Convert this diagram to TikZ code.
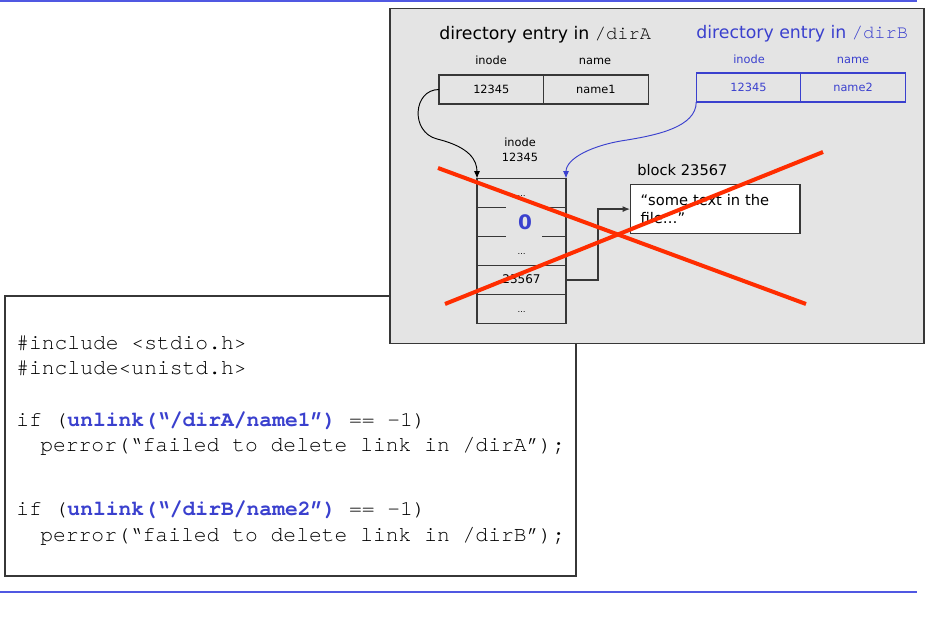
\documentclass[tikz,border=0pt]{standalone}
\usepackage{fontspec}
\setmainfont{DejaVu Sans}
\setmonofont{TeX Gyre Cursor}
\usepackage{xcolor}
\usetikzlibrary{arrows.meta,positioning}
\definecolor{myblue}{RGB}{58,64,206}
\definecolor{myrule}{RGB}{80,88,226}
\definecolor{myred}{RGB}{255,45,0}
\definecolor{mygray}{RGB}{228,228,228}
\definecolor{myedge}{RGB}{55,55,55}
\newcommand{\kwd}[1]{\textcolor{myblue}{\bfseries #1}}
\newcommand{\fs}[1]{\fontsize{#1}{1.2\dimexpr#1pt\relax}\selectfont}

\begin{document}
\begin{tikzpicture}[x=0.75pt,y=-0.75pt,
    cell/.style={draw=myedge,line width=0.9pt,outer sep=0pt,inner sep=0pt,
      minimum width=78.4pt,minimum height=21.75pt,font=\fs{8.5}},
    row/.style={outer sep=0pt,inner sep=0pt,minimum width=66.75pt,
      minimum height=21.75pt,text height=5pt,text depth=0pt},
    hdr/.style={anchor=base,inner sep=0pt,font=\fs{8.5}},
    code/.style={anchor=base west,inner sep=0pt,font=\ttfamily\fs{16}},
    tip/.style={-{Latex[length=5.5pt,width=4.5pt]}},
    seg/.style={draw=myedge,line width=0.9pt}]
    \useasboundingbox (0,0) rectangle (925,620);

    % rules
    \draw[myrule,line width=1.1pt] (0,0.8) -- (917,0.8);
    \draw[myrule,line width=1.6pt] (0,592) -- (917,592);

    % code box, partly under the gray panel
    \draw[myedge,fill=white,line width=0.9pt] (5,296) rectangle (576,576);
    \node[code] (c1) at (16,349.5) {\#include <stdio.h>};
    \node[code] (c2) at (16,374.5) {\#include<unistd.h>};
    \node[code] (c3) at (16,426.5) {if (\kwd{unlink(“/dirA/name1”)} == -1)};
    \node[code] (c4) at (40,451.5) {perror(“failed to delete link in /dirA”);};
    \node[code] (c5) at (16,515.5) {if (\kwd{unlink(“/dirB/name2”)} == -1)};
    \node[code] (c6) at (40,541.5) {perror(“failed to delete link in /dirB”);};

    % gray panel
    \draw[myedge,fill=mygray,line width=1.1pt] (390,8.5) rectangle (924,343.5);

    % directory entries
    \node[anchor=base west,inner sep=0pt,font=\fs{13}] (ttlA) at (439,39.5)
      {directory entry in {\ttfamily\fs{14}/dirA}};
    \node[anchor=base west,inner sep=0pt,font=\fs{13},text=myblue] (ttlB) at (696,38.5)
      {directory entry in {\ttfamily\fs{14}/dirB}};
    \node[hdr] (hA1) at (491,65) {inode};
    \node[hdr] (hA2) at (595,65) {name};
    \node[hdr,text=myblue] (hB1) at (749,63.5) {inode};
    \node[hdr,text=myblue] (hB2) at (853,63.5) {name};
    \node[cell] (a-ino) at (491.3,89.5) {12345};
    \node[cell,right=0pt of a-ino] (a-nam) {name1};
    \node[cell,draw=myblue,text=myblue] (b-ino) at (748.5,87.5) {12345};
    \node[cell,draw=myblue,text=myblue,right=0pt of b-ino] (b-nam) {name2};

    % inode
    \node[align=center,inner sep=0pt,font=\fs{8.5},
      execute at begin node=\setlength{\baselineskip}{11.25pt}] (inolbl) at (520,149.5)
      {inode\\12345};
    \node[row,font=\fs{6}] (r1) at (521.5,193) {…};
    \node[row,below=0pt of r1] (r2) {};
    \node[row,font=\fs{6},below=0pt of r2] (r3) {…};
    \node[row,font=\fs{9},below=0pt of r3] (r4) {23567};
    \node[row,font=\fs{6},below=0pt of r4] (r5) {…};
    \node[inner sep=0pt,font=\bfseries\fs{15},text=myblue] (zero) at (525,222) {0};
    \draw[seg] (r1.north west) rectangle (r5.south east);
    \draw[seg] (r1.south west) -- ++(28.7,0);
    \draw[seg] (r1.south east) -- ++(-24.3,0);
    \draw[seg] (r2.south west) -- ++(28.7,0);
    \draw[seg] (r2.south east) -- ++(-24.3,0);
    \draw[seg] (r3.south west) -- (r3.south east);
    \draw[seg] (r4.south west) -- (r4.south east);

    % data block
    \node[anchor=base west,inner sep=0pt,font=\fs{11}] (blklbl) at (637,176) {block 23567};
    \node[draw=myedge,line width=0.9pt,fill=white,anchor=north west,align=left,
      text width=112pt,inner xsep=7.5pt,inner ysep=0pt,minimum height=36.75pt,
      font=\fs{11},execute at begin node=\setlength{\baselineskip}{13.5pt}]
      (blk) at (630,184) {“some text in the\\file…”};

    % pointers
    \coordinate (bendA) at (437,139);
    \coordinate (bendB) at (627,140);
    \draw[tip,black,line width=0.7pt] (a-ino.west) .. controls +(-26,0) and +(-27,-7) .. (bendA)
      .. controls +(33,8) and +(0,-18) .. (r1.north west);
    \draw[tip,myblue,line width=0.7pt] (b-ino.south west) .. controls +(0,25) and +(30,-5) .. (bendB)
      .. controls +(-35,5) and +(0,-20) .. (r1.north east);
    \draw[tip,myedge,line width=0.9pt] (r4.east) -- ++(32,0) |- (blk.west);

    % deleted
    \draw[myred,line width=3pt] (438,168) -- (806,304);
    \draw[myred,line width=3pt] (445,304) -- (823,152);
\end{tikzpicture}
\end{document}
